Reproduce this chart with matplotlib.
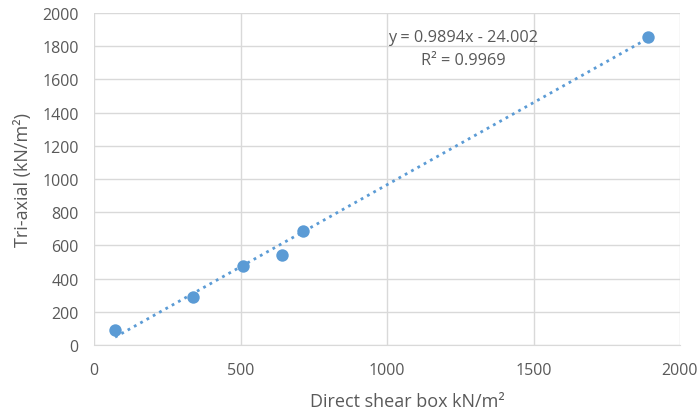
import numpy as np
import matplotlib.pyplot as plt

# data
direct_shear = [72, 339, 510, 643, 713, 1892]
triaxial = [90, 291, 478, 544, 689, 1857]

# trendline as printed on the chart
slope = 0.9894
intercept = -24.002
r_squared = 0.9969

x_ticks = [0, 500, 1000, 1500, 2000]
y_ticks = [0, 200, 400, 600, 800, 1000, 1200, 1400, 1600, 1800, 2000]

blue = '#5b9bd5'
text_gray = '#595959'
grid_gray = '#d9d9d9'

plt.rcParams['font.family'] = ['Open Sans', 'DejaVu Sans']

fig = plt.figure(figsize=(6.99, 4.14), dpi=100)
ax = fig.add_axes([94 / 699, 68 / 414, 586 / 699, 332 / 414])

ax.scatter(direct_shear, triaxial, s=80, color=blue, zorder=3, linewidths=0)

xs = np.array([min(direct_shear), max(direct_shear)])
ax.plot(xs, slope * xs + intercept, color=blue, lw=2, linestyle=(0, (1, 1.6)), zorder=2)

ax.text(1260, 1855, f"y = {slope}x - {abs(intercept):.3f}", ha='center', va='center',
        fontsize=11.7, color=text_gray)
ax.text(1260, 1717, f"R² = {r_squared}", ha='center', va='center',
        fontsize=11.7, color=text_gray)

ax.set_xlim(0, 2000)
ax.set_ylim(0, 2000)
ax.set_xticks(x_ticks)
ax.set_yticks(y_ticks)
ax.grid(True, color=grid_gray, lw=1)
ax.set_axisbelow(True)
for side in ['top', 'right', 'left']:
    ax.spines[side].set_visible(False)
ax.spines['bottom'].set_color(grid_gray)
ax.tick_params(length=0, labelsize=11.5, labelcolor=text_gray)
ax.tick_params(axis='x', pad=12)
ax.tick_params(axis='y', pad=11)

ax.set_xlabel("Direct shear box kN/m²", fontsize=13, color=text_gray, va='center')
ax.xaxis.set_label_coords(0.535, -0.169)
ax.set_ylabel("Tri-axial (kN/m²)", fontsize=13, color=text_gray, va='center')
ax.yaxis.set_label_coords(-0.121, 0.5)

fig.savefig("out.png", dpi=100)
